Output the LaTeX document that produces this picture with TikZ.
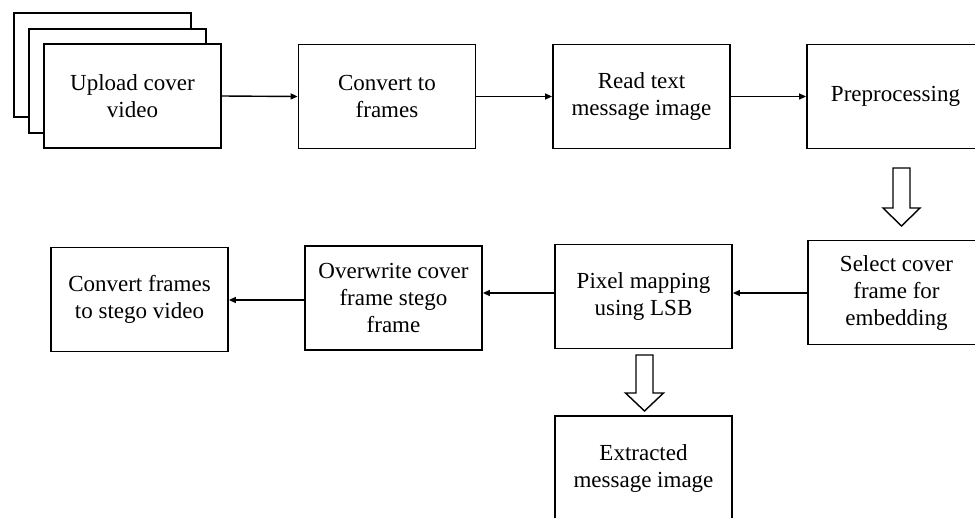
\documentclass[tikz,border=0pt]{standalone}
\usepackage{fontspec}
\setmainfont{Liberation Serif}
\usetikzlibrary{arrows.meta,calc}

\tikzset{
  box/.style={draw=black, line width=1.8pt, fill=white, minimum width=177pt,
    minimum height=104pt, inner sep=0pt, align=center,
    font=\fontsize{23}{27}\selectfont},
  flow/.style={draw=black, line width=1.4pt, -{Triangle[length=7pt,width=6pt]}},
  hollow/.style={draw=black, line width=1.4pt, fill=white, line join=miter}
}

\begin{document}
\begin{tikzpicture}[x=1pt, y=-1pt]
  \useasboundingbox (0,0) rectangle (975,517);
  \begin{scope}
    \clip (0,0) rectangle (975,517);

    % stacked frames behind the cover video box
    \node[box] (stackA) at (102.5,65) {};
    \node[box] (stackB) at (117.5,81) {};

    % top row
    \node[box] (upload) at (132.5,96) {Upload cover\\video};
    \node[box] (frames) at (387,96.5) {Convert to\\frames};
    \node[box] (readmsg) at (641.5,96.5) {Read text\\message image};
    \node[box] (prep) at (895.5,96.5) {Preprocessing};

    % second row
    \node[box] (select) at (896.5,292.5) {Select cover\\frame for\\embedding};
    \node[box] (pixel) at (643.5,296.5) {Pixel mapping\\using LSB};
    \node[box] (overwrite) at (393.5,298) {Overwrite cover\\frame stego\\frame};
    \node[box] (tostego) at (139.5,299.5) {Convert frames\\to stego video};

    % bottom
    \node[box] (extract) at (643.5,468) {Extracted\\message image};

    % connector start points on the second row
    \coordinate (s1) at ($(select.west)+(0,0.5)$);
    \coordinate (s2) at ($(pixel.west)+(0,-3.5)$);
    \coordinate (s3) at ($(overwrite.west)+(0,2)$);

    % thin connectors
    \draw[flow] (upload.east) -- (frames.west);
    \draw[flow] (frames.east) -- (readmsg.west);
    \draw[flow] (readmsg.east) -- (prep.west);
    \draw[flow] (s1) -- (pixel.east |- s1);
    \draw[flow] (s2) -- (overwrite.east |- s2);
    \draw[flow] (s3) -- (tostego.east |- s3);

    % hollow block arrows
    \coordinate (h1) at (901.5,168);
    \draw[hollow] ($(h1)+(-8.5,0)$) -- ($(h1)+(8.5,0)$) -- ($(h1)+(8.5,40)$)
      -- ($(h1)+(18.5,40)$) -- ($(h1)+(0,58)$) -- ($(h1)+(-18.5,40)$)
      -- ($(h1)+(-8.5,40)$) -- cycle;
    \coordinate (h2) at (644.5,355);
    \draw[hollow] ($(h2)+(-8.5,0)$) -- ($(h2)+(8.5,0)$) -- ($(h2)+(8.5,38)$)
      -- ($(h2)+(19,38)$) -- ($(h2)+(0,56)$) -- ($(h2)+(-19,38)$)
      -- ($(h2)+(-8.5,38)$) -- cycle;
  \end{scope}
\end{tikzpicture}
\end{document}
